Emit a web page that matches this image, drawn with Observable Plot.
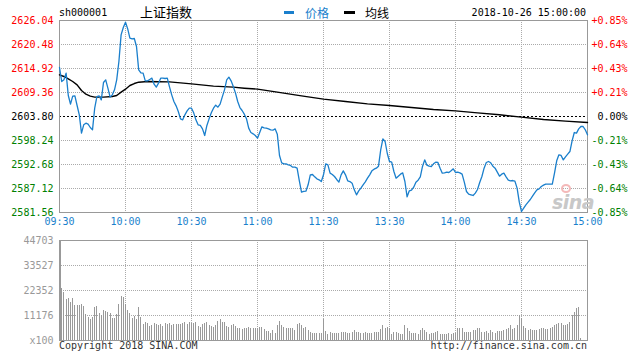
<!DOCTYPE html>
<html>
<head>
<meta charset="utf-8">
<script src="https://cdn.jsdelivr.net/npm/d3@7"></script>
<script src="https://cdn.jsdelivr.net/npm/@observablehq/plot@0.6"></script>
<style>
  html, body { margin: 0; padding: 0; background: #fff; }
  #chart { position: relative; width: 642px; height: 360px; background: #fff; overflow: hidden; }
  #chart svg { position: absolute; left: 0; }
  .t { position: absolute; white-space: nowrap; font-family: "DejaVu Sans Mono", monospace; font-size: 10px; line-height: 12px; }
  .cjk { font-family: "Noto Sans CJK SC", sans-serif; }
  .sw { position: absolute; height: 3px; }
</style>
</head>
<body>
<div id="chart"></div>
<script>
// ---------- data ----------
const symbol = "sh000001";
const indexName = "上证指数";
const seriesNames = ["价格", "均线"];
const stamp = "2018-10-26 15:00:00";
const prevClose = 2603.80;

const priceTicks = [2626.04, 2620.48, 2614.92, 2609.36, 2603.80, 2598.24, 2592.68, 2587.12, 2581.56];
const priceTickLabels = ["2626.04", "2620.48", "2614.92", "2609.36", "2603.80", "2598.24", "2592.68", "2587.12", "2581.56"];
const pctLabels = ["+0.85%", "+0.64%", "+0.43%", "+0.21%", "0.00%", "-0.21%", "-0.43%", "-0.64%", "-0.85%"];

const timeTickMinutes = [0, 30, 60, 90, 120, 150, 180, 210, 240];
const timeLabels = ["09:30", "10:00", "10:30", "11:00", "11:30", "13:30", "14:00", "14:30", "15:00"];

const volTicks = [0, 11176, 22352, 33527, 44703];
const volTickLabels = ["x100", "11176", "22352", "33527", "44703"];

// minute-by-minute price (minute 0 = 09:30 ... 240 = 15:00)
const price = [
2615.15, 2611.91, 2612.29, 2613.84, 2608.66, 2606.66, 2608.51, 2608.59, 2606.35, 2604.19,
2599.94, 2601.87, 2602.26, 2602.02, 2601.25, 2600.71, 2605.73, 2608.43, 2608.59, 2607.66,
2611.68, 2612.29, 2610.36, 2608.28, 2608.82, 2609.98, 2612.29, 2616.54, 2622.72, 2624.42,
2625.65, 2624.11, 2621.95, 2621.79, 2621.87, 2620.02, 2614.61, 2613.92, 2613.84, 2612.06,
2612.06, 2612.37, 2612.68, 2611.29, 2610.60, 2611.52, 2612.68, 2612.68, 2612.60, 2612.68,
2610.67, 2608.82, 2607.27, 2606.27, 2604.96, 2603.26, 2603.03, 2604.19, 2605.11, 2605.73,
2605.73, 2604.65, 2603.03, 2601.87, 2601.72, 2600.94, 2599.40, 2601.72, 2603.26, 2604.65,
2605.73, 2606.43, 2605.96, 2606.66, 2608.36, 2609.98, 2612.29, 2612.91, 2612.06, 2610.75,
2609.21, 2607.27, 2605.88, 2605.19, 2604.34, 2603.26, 2601.10, 2600.09, 2599.78, 2599.40,
2598.78, 2600.09, 2601.41, 2601.17, 2601.10, 2600.94, 2600.71, 2600.63, 2600.94, 2599.71,
2594.77, 2593.07, 2592.83, 2592.83, 2592.60, 2592.45, 2592.06, 2592.06, 2591.83, 2588.97,
2586.27, 2586.43, 2586.50, 2587.97, 2590.29, 2590.36, 2589.82, 2589.36, 2589.13, 2588.74,
2590.29, 2592.83, 2592.60, 2590.67, 2590.36, 2589.90, 2589.21, 2588.59, 2590.29, 2591.21,
2590.29, 2588.90, 2588.74, 2588.36, 2586.81, 2585.65, 2586.58, 2587.20, 2587.97, 2588.66,
2589.51, 2590.29, 2591.21, 2591.60, 2591.83, 2592.29, 2596.08, 2598.63, 2598.01, 2595.23,
2593.38, 2593.22, 2591.06, 2589.51, 2589.98, 2590.44, 2590.75, 2588.74, 2585.19, 2586.58,
2586.73, 2587.43, 2588.59, 2589.05, 2589.82, 2592.22, 2593.76, 2592.53, 2592.29, 2592.22,
2592.83, 2593.22, 2593.14, 2591.83, 2590.67, 2590.75, 2590.90, 2590.83, 2591.21, 2591.68,
2590.83, 2590.90, 2590.75, 2590.44, 2588.59, 2586.43, 2585.81, 2585.65, 2585.50, 2586.04,
2586.89, 2588.51, 2589.90, 2591.83, 2593.14, 2593.38, 2593.07, 2592.29, 2591.83, 2590.90,
2589.98, 2590.44, 2590.67, 2589.82, 2589.05, 2588.90, 2588.97, 2588.82, 2587.20, 2583.95,
2581.79, 2582.56, 2583.34, 2583.95, 2584.57, 2585.34, 2586.12, 2586.81, 2587.04, 2587.58,
2587.89, 2588.12, 2588.12, 2588.12, 2588.12, 2590.67, 2593.53, 2594.92, 2594.77, 2593.76,
2594.46, 2595.07, 2595.69, 2598.16, 2600.09, 2599.94, 2600.94, 2601.48, 2601.48, 2600.71,
2599.55
];

// average-price line, read at these minutes
const avgMinutes = [0, 2, 4, 6, 8, 10, 12, 14, 16, 20, 24, 26, 28, 30, 32, 34, 36, 40, 50, 60, 70, 79,
  84, 90, 99, 110, 120, 130, 140, 150, 160, 170, 180, 190, 200, 210, 220, 230, 240];
const avgValues = [2613.45, 2613.07, 2612.53, 2611.91, 2611.14, 2609.82, 2608.97, 2608.51, 2608.28,
  2608.28, 2608.43, 2608.66, 2609.44, 2610.13, 2610.98, 2611.44, 2611.75, 2611.91, 2611.83, 2611.37,
  2610.83, 2610.60, 2610.36, 2610.13, 2609.44, 2608.59, 2607.82, 2607.27, 2606.73, 2606.35, 2605.88,
  2605.42, 2605.11, 2604.65, 2604.19, 2603.65, 2603.11, 2602.72, 2602.41];

// volume per minute (x100), minutes 1..237
const volume = [
23393, 21605, 18476, 18923, 17135, 18923, 15645, 15645, 15645, 16241,
15198, 11473, 10430, 9536, 10281, 14900, 15198, 12218, 11175, 13410,
12963, 12665, 11920, 9983, 9983, 11473, 16241, 19668, 19221, 15943,
13261, 12218, 9983, 10579, 9238, 14751, 10430, 7301, 7897, 7450,
6258, 6705, 7748, 7301, 6705, 7301, 6258, 7450, 7003, 7748,
6705, 7301, 7003, 7003, 7301, 7748, 8046, 7301, 8046, 7748,
7748, 8046, 6258, 5811, 7003, 7748, 8195, 6705, 6258, 5811,
6705, 8493, 9238, 8195, 7897, 6258, 5811, 6705, 7301, 6407,
5364, 5513, 4917, 5215, 5215, 5811, 5513, 5513, 5215, 5513,
5811, 5811, 4768, 3874, 3874, 3278, 4321, 3278, 6705, 8642,
6705, 5811, 5215, 5513, 5215, 5215, 4321, 7301, 7748, 6556,
5215, 5960, 4619, 3725, 3278, 3278, 3278, 3278, 3278, 9536,
4023, 2831, 3576, 3278, 3278, 3278, 3278, 3576, 3576, 3576,
3278, 3278, 3576, 4470, 3576, 3576, 3278, 3278, 3576, 3278,
3278, 3278, 3576, 3576, 3576, 5066, 6705, 5513, 5811, 5513,
2831, 3576, 3576, 3278, 2533, 2533, 6705, 5513, 4023, 3278,
3278, 3278, 2831, 4321, 5215, 4321, 3725, 2831, 3278, 3278,
3725, 4023, 2831, 2533, 2831, 2831, 3278, 2831, 3278, 3278,
5513, 5513, 5215, 3725, 3725, 3725, 3725, 4321, 4321, 5513,
5215, 3725, 3725, 4023, 3278, 4321, 3725, 3278, 4023, 4023,
4023, 4321, 4768, 5513, 6705, 4768, 5513, 6705, 11175, 9983,
6258, 5215, 4321, 4768, 4321, 4619, 4321, 4768, 5513, 5513,
4768, 4768, 5215, 5811, 6705, 7301, 7748, 7748, 6705, 6705,
7301, 8195, 11175, 12665, 14453, 14900, 745
];

// ---------- build ----------
const RED = "#ff0000", GREEN = "#008000", BLUE = "#1a7fcc", GRID = "#aaaaaa", FRAME = "#999999";
const MONO = "'DejaVu Sans Mono', monospace";

const priceRows = price.map((p, i) => ({m: i, p}));
const avgRows = avgMinutes.map((m, i) => ({m, p: avgValues[i]}));
const volRows = volume.map((v, i) => ({m: i + 1, v}));
const tickRows = priceTicks.map((p, i) => ({p, label: priceTickLabels[i], pct: pctLabels[i]}));
const upTicks = tickRows.filter(d => d.p > prevClose);
const flatTicks = tickRows.filter(d => d.p === prevClose);
const downTicks = tickRows.filter(d => d.p < prevClose);
const timeRows = timeTickMinutes.map((m, i) => ({m, label: timeLabels[i]}));
const innerTimes = timeTickMinutes.slice(1, -1);
const innerPriceGrid = priceTicks.slice(1, -1).filter(p => p !== prevClose);
const volRowsTicks = volTicks.map((v, i) => ({v, label: volTickLabels[i]}));

const common = {
  width: 642, marginLeft: 59, marginRight: 55,
  style: {background: "transparent", fontFamily: MONO, fontSize: "10px", overflow: "visible"}
};

const pricePlot = Plot.plot({
  ...common,
  height: 232, marginTop: 20, marginBottom: 20,
  x: {domain: [0, 240], axis: null},
  y: {domain: [2581.56, 2626.04], axis: null},
  marks: [
    Plot.ruleY(innerPriceGrid, {stroke: GRID, strokeDasharray: "1,1", shapeRendering: "crispEdges"}),
    Plot.ruleX(innerTimes, {stroke: GRID, strokeDasharray: "1,1", shapeRendering: "crispEdges"}),
    Plot.ruleY([prevClose], {stroke: "#000", strokeDasharray: "2,2", shapeRendering: "crispEdges"}),
    Plot.frame({stroke: FRAME, shapeRendering: "crispEdges"}),
    Plot.line(avgRows, {x: "m", y: "p", stroke: "#000", strokeWidth: 1.4}),
    Plot.line(priceRows, {x: "m", y: "p", stroke: BLUE, strokeWidth: 1.3}),
    Plot.text(upTicks, {y: "p", text: "label", frameAnchor: "left", dx: -6, textAnchor: "end", fill: RED}),
    Plot.text(flatTicks, {y: "p", text: "label", frameAnchor: "left", dx: -6, textAnchor: "end", fill: "#000"}),
    Plot.text(downTicks, {y: "p", text: "label", frameAnchor: "left", dx: -6, textAnchor: "end", fill: GREEN}),
    Plot.text(upTicks, {y: "p", text: "pct", frameAnchor: "right", dx: 40, textAnchor: "end", fill: RED}),
    Plot.text(flatTicks, {y: "p", text: "pct", frameAnchor: "right", dx: 40, textAnchor: "end", fill: "#000"}),
    Plot.text(downTicks, {y: "p", text: "pct", frameAnchor: "right", dx: 40, textAnchor: "end", fill: GREEN}),
    Plot.text(timeRows, {x: "m", text: "label", frameAnchor: "bottom", dy: 12, fill: BLUE})
  ]
});
pricePlot.style.top = "0px";

const volPlot = Plot.plot({
  ...common,
  height: 120, marginTop: 8, marginBottom: 12,
  x: {domain: [0, 240], axis: null},
  y: {domain: [0, 44703], axis: null},
  marks: [
    Plot.ruleY(volTicks.slice(1, -1), {stroke: GRID, strokeDasharray: "1,1", shapeRendering: "crispEdges"}),
    Plot.ruleX(innerTimes, {stroke: GRID, strokeDasharray: "1,1", shapeRendering: "crispEdges"}),
    Plot.ruleX(volRows, {x: "m", y1: 0, y2: "v", stroke: "#999", strokeWidth: 1, shapeRendering: "crispEdges"}),
    Plot.frame({stroke: FRAME, shapeRendering: "crispEdges"}),
    Plot.ruleX([0], {stroke: FRAME, strokeWidth: 2, shapeRendering: "crispEdges"}),
    Plot.text(volRowsTicks, {y: "v", text: "label", frameAnchor: "left", dx: -6, textAnchor: "end", fill: "#999"})
  ]
});
volPlot.style.top = "232px";

const chart = document.getElementById("chart");
chart.appendChild(pricePlot);
chart.appendChild(volPlot);

function addText(txt, css, cls) {
  const d = document.createElement("div");
  d.className = "t" + (cls ? " " + cls : "");
  d.textContent = txt;
  Object.assign(d.style, css);
  chart.appendChild(d);
  return d;
}
function addSwatch(css) {
  const d = document.createElement("div");
  d.className = "sw";
  Object.assign(d.style, css);
  chart.appendChild(d);
}
// header
addText(symbol, {left: "59px", top: "7px", color: "#000"});
addText(indexName, {left: "140px", top: "4px", fontSize: "13px", lineHeight: "16px", color: "#000"}, "cjk");
addSwatch({left: "284px", top: "11px", width: "10px", background: BLUE});
addText(seriesNames[0], {left: "305px", top: "5px", fontSize: "12px", lineHeight: "15px", color: BLUE}, "cjk");
addSwatch({left: "344px", top: "11px", width: "11px", background: "#000"});
addText(seriesNames[1], {left: "365px", top: "5px", fontSize: "12px", lineHeight: "15px", color: "#000"}, "cjk");
addText(stamp, {right: "56px", top: "7px", color: "#000"});
// footer
addText("Copyright 2018 SINA.COM", {left: "59px", top: "340px", color: "#333"});
addText("http://finance.sina.com.cn", {right: "55px", top: "340px", color: "#333"});
// watermark
const eye = document.createElement("div");
Object.assign(eye.style, {position: "absolute", left: "561px", top: "184px", width: "10px", height: "9px",
  borderRadius: "50%", border: "2px solid #f4b9b9", boxSizing: "border-box"});
chart.appendChild(eye);
addText("sina", {left: "552px", top: "192px", fontFamily: "'DejaVu Sans', sans-serif", fontSize: "19px",
  lineHeight: "20px", fontStyle: "italic", fontWeight: "bold", color: "#c8c8c8", letterSpacing: "-0.5px"});
</script>
</body>
</html>
